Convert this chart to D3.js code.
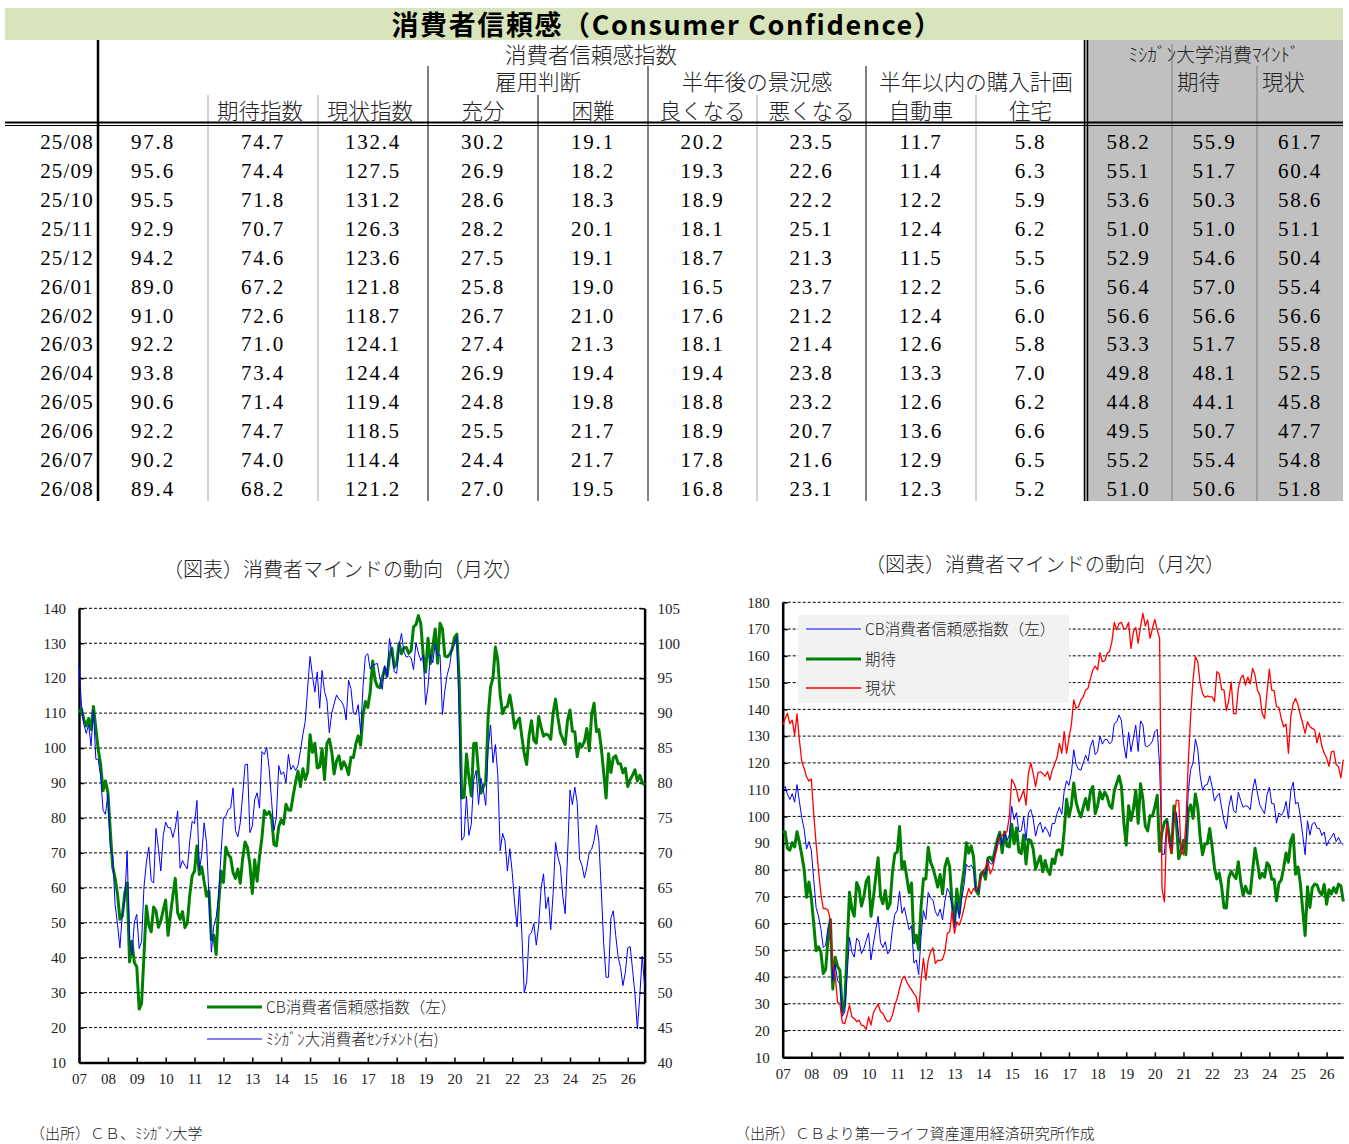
<!DOCTYPE html>
<html>
<head>
<meta charset="utf-8">
<script src="https://cdn.jsdelivr.net/npm/d3@7"></script>
<style>
  body { margin: 0; background: #fff; }
  svg { display: block; }
</style>
</head>
<body>
<script>
// ---- Table data (25/08 - 26/08) ----
const tableMonths = ["25/08","25/09","25/10","25/11","25/12","26/01","26/02","26/03","26/04","26/05","26/06","26/07","26/08"];
const tblCB       = [97.8, 95.6, 95.5, 92.9, 94.2, 89.0, 91.0, 92.2, 93.8, 90.6, 92.2, 90.2, 89.4];
const tblExp      = [74.7, 74.4, 71.8, 70.7, 74.6, 67.2, 72.6, 71.0, 73.4, 71.4, 74.7, 74.0, 68.2];
const tblPres     = [132.4, 127.5, 131.2, 126.3, 123.6, 121.8, 118.7, 124.1, 124.4, 119.4, 118.5, 114.4, 121.2];
const tblJobsPlenty = [30.2, 26.9, 28.6, 28.2, 27.5, 25.8, 26.7, 27.4, 26.9, 24.8, 25.5, 24.4, 27.0];
const tblJobsHard   = [19.1, 18.2, 18.3, 20.1, 19.1, 19.0, 21.0, 21.3, 19.4, 19.8, 21.7, 21.7, 19.5];
const tblBizBetter  = [20.2, 19.3, 18.9, 18.1, 18.7, 16.5, 17.6, 18.1, 19.4, 18.8, 18.9, 17.8, 16.8];
const tblBizWorse   = [23.5, 22.6, 22.2, 25.1, 21.3, 23.7, 21.2, 21.4, 23.8, 23.2, 20.7, 21.6, 23.1];
const tblAuto       = [11.7, 11.4, 12.2, 12.4, 11.5, 12.2, 12.4, 12.6, 13.3, 12.6, 13.6, 12.9, 12.3];
const tblHome       = [5.8, 6.3, 5.9, 6.2, 5.5, 5.6, 6.0, 5.8, 7.0, 6.2, 6.6, 6.5, 5.2];
const tblMich       = [58.2, 55.1, 53.6, 51.0, 52.9, 56.4, 56.6, 53.3, 49.8, 44.8, 49.5, 55.2, 51.0];
const tblMichExp    = [55.9, 51.7, 50.3, 51.0, 54.6, 57.0, 56.6, 51.7, 48.1, 44.1, 50.7, 55.4, 50.6];
const tblMichCur    = [61.7, 60.4, 58.6, 51.1, 50.4, 55.4, 56.6, 55.8, 52.5, 45.8, 47.7, 54.8, 51.8];

// ---- Monthly series, 2007/01 - 2026/08 ----
const yearLabels = ["07","08","09","10","11","12","13","14","15","16","17","18","19","20","21","22","23","24","25","26"];

const cbIndex = [
  110.2,111.2,108.2,106.3,108.5,105.3,111.9,105.6,99.5,95.2,87.8,90.6,
  87.3,76.4,65.9,62.8,58.1,51.0,51.9,58.5,61.4,38.8,44.7,38.6,
  37.4,25.3,26.9,40.8,54.8,49.3,47.4,54.5,53.4,48.7,50.6,53.6,
  56.5,46.4,52.3,57.7,62.7,52.9,51.0,53.2,48.6,49.9,57.8,63.4,
  64.8,72.0,63.8,66.0,61.7,57.6,59.2,45.2,46.4,40.9,55.2,64.8,
  61.5,71.6,69.5,68.7,64.4,62.7,65.4,61.3,68.4,73.1,71.5,66.7,
  58.4,68.0,61.9,69.0,74.3,82.1,81.0,81.8,80.2,72.4,72.0,77.5,
  79.4,78.3,83.9,82.3,82.2,86.4,90.3,93.4,89.0,94.1,91.0,93.1,
  103.8,98.8,101.4,94.3,94.6,99.8,91.0,101.3,102.6,99.1,92.6,96.3,
  97.8,94.0,96.1,94.7,92.4,97.4,97.3,101.1,103.5,100.8,109.4,113.3,
  111.6,116.1,124.9,119.4,117.6,117.3,120.0,122.9,120.6,126.2,128.6,123.1,
  124.3,130.0,127.0,128.7,128.8,127.1,127.9,134.7,135.3,137.9,135.7,126.6,
  121.7,131.4,124.2,129.2,134.1,124.3,135.7,134.2,126.3,126.1,126.8,128.2,
  131.6,132.6,118.8,85.7,85.9,98.3,91.7,86.3,101.3,101.4,92.9,87.1,
  88.9,90.4,109.0,117.5,120.0,128.9,125.1,115.2,109.8,111.6,111.9,115.2,
  111.1,105.7,107.6,108.6,103.2,98.4,95.3,103.6,107.8,102.2,101.4,109.0,
  106.0,103.4,104.0,103.7,102.5,110.1,114.0,108.7,104.3,102.6,101.0,108.0,
  110.9,104.8,104.7,97.5,101.3,100.4,101.9,105.6,99.2,109.6,112.8,104.7,
  105.3,100.1,92.9,85.7,98.4,93.0,97.2,97.8,95.6,95.5,92.9,94.2,
  89.0,91.0,92.2,93.8,90.6,92.2,90.2,89.4
];

const presentSituation = [
  134.2,136.5,138.5,134.7,136.0,130.4,138.3,128.5,120.5,117.9,114.8,113.2,
  114.0,101.0,90.0,80.0,71.2,65.6,65.6,65.0,61.2,43.8,40.7,30.7,
  29.9,22.9,22.6,25.8,29.5,25.1,24.5,23.3,23.9,22.0,21.7,20.4,
  25.1,22.0,26.6,28.3,29.9,27.0,26.4,24.5,23.3,23.6,25.8,29.5,
  32.0,35.7,39.1,40.3,38.2,36.6,35.3,33.8,32.6,27.0,38.9,47.0,
  38.9,46.3,49.4,50.9,45.1,46.3,46.1,46.6,49.4,56.3,56.9,64.8,
  56.3,60.6,59.4,61.9,65.6,69.9,73.1,71.0,73.1,72.5,73.7,76.2,
  79.3,81.0,83.1,78.5,80.5,84.9,88.7,92.4,92.9,93.9,94.2,99.9,
  113.9,112.3,109.9,105.5,107.3,109.9,104.2,116.1,120.0,116.1,111.1,116.3,
  116.7,116.0,115.0,116.7,113.6,117.3,119.6,122.0,127.3,123.6,131.7,123.6,
  129.2,134.2,143.5,140.4,141.0,143.5,144.7,147.2,147.9,151.6,154.7,156.2,
  154.7,161.2,157.8,158.1,160.9,161.6,165.3,172.5,169.7,172.1,172.5,169.9,
  170.3,172.5,162.8,169.0,170.6,164.7,170.9,175.9,171.1,173.4,166.5,170.3,
  173.6,169.7,166.5,73.1,68.1,97.4,89.9,86.2,97.4,106.1,105.9,87.4,
  85.6,97.4,119.8,137.3,151.0,159.7,157.8,149.7,146.0,144.5,145.0,144.7,
  144.7,142.9,154.1,153.2,147.5,147.2,139.5,143.5,150.3,138.5,138.3,147.9,
  151.6,152.8,149.1,152.0,149.5,155.3,152.8,147.2,145.4,138.5,136.6,146.0,
  155.0,147.2,147.0,141.0,140.7,136.6,133.5,134.5,123.6,137.3,142.2,144.1,
  141.6,137.9,134.8,131.0,135.4,133.5,132.9,132.4,127.5,131.2,126.3,123.6,
  121.8,118.7,124.1,124.4,119.4,118.5,114.4,121.2
];

const expectations = [
  94.2,94.3,88.0,87.4,90.2,88.6,94.3,90.3,85.5,80.1,69.8,75.5,
  69.5,60.0,49.8,51.3,49.4,41.3,42.8,54.2,61.5,35.5,47.4,43.9,
  42.4,26.9,29.8,50.8,71.7,65.4,62.7,75.3,73.1,66.5,69.9,75.7,
  77.4,62.7,69.4,77.3,84.6,70.2,67.4,72.3,65.5,67.4,79.1,86.0,
  86.7,96.2,80.3,83.1,77.4,71.6,75.1,52.8,55.6,50.2,66.1,76.7,
  76.6,88.5,82.9,80.6,77.3,73.6,78.3,71.1,81.1,84.3,81.2,68.0,
  59.8,72.9,63.6,73.7,80.1,90.2,86.3,89.0,84.9,72.3,70.9,78.4,
  79.5,76.5,84.4,84.8,83.3,87.4,91.4,94.1,86.4,94.2,88.9,88.6,
  97.1,89.8,95.7,86.8,86.1,93.1,82.2,91.4,91.0,87.8,80.3,83.0,
  85.2,79.3,83.5,80.0,78.3,84.1,82.4,87.2,87.6,85.6,94.5,106.4,
  99.9,104.0,112.5,105.4,102.0,99.8,103.5,106.7,102.4,109.3,111.2,101.0,
  104.0,109.2,106.5,109.1,107.4,104.1,103.0,109.5,112.4,115.1,111.2,97.7,
  89.3,104.0,98.5,102.7,109.8,97.4,112.2,106.4,96.4,94.6,100.3,100.1,
  103.6,107.9,87.0,94.1,97.8,98.9,92.9,86.4,103.9,98.3,84.2,86.9,
  91.1,85.7,101.8,104.3,99.3,108.4,103.3,92.2,85.7,89.7,89.8,95.5,
  88.7,80.9,76.6,78.9,73.7,65.9,65.8,77.0,79.5,78.0,76.8,83.1,
  75.6,70.5,73.9,71.5,71.2,80.0,88.1,83.0,76.9,78.7,77.3,82.7,
  81.5,76.5,76.5,68.5,75.0,76.3,80.8,86.3,82.9,91.1,93.2,78.4,
  81.1,74.9,65.0,55.5,73.7,66.0,73.4,74.7,74.4,71.8,70.7,74.6,
  67.2,72.6,71.0,73.4,71.4,74.7,74.0,68.2
];

const michigan = [
  96.9,91.3,88.4,87.1,88.3,85.3,90.4,83.4,83.4,80.9,76.1,75.5,
  78.4,70.8,69.5,62.6,59.8,56.4,61.2,63.0,70.3,57.6,55.3,60.1,
  61.2,56.3,57.3,65.1,68.7,70.8,66.0,65.7,73.5,70.6,67.4,72.5,
  74.4,73.6,73.6,72.2,73.6,76.0,67.8,68.9,68.2,67.7,71.6,74.5,
  74.2,77.5,67.5,69.8,74.3,71.5,63.7,55.8,59.5,60.8,63.7,69.9,
  75.0,75.3,76.2,76.4,79.3,73.2,72.3,74.3,78.3,82.6,82.7,72.9,
  73.8,77.6,78.6,76.4,84.5,84.1,85.1,82.1,77.5,73.2,75.1,82.5,
  81.2,81.6,80.0,84.1,81.9,82.5,81.8,82.5,84.6,86.9,88.8,93.6,
  98.1,95.4,93.0,95.9,90.7,96.1,93.1,91.9,87.2,90.0,91.3,92.6,
  92.0,91.7,91.0,89.0,94.7,93.5,90.0,89.8,91.2,87.2,93.8,98.2,
  98.5,96.3,96.9,97.0,97.1,95.0,93.4,96.8,95.1,100.7,98.5,95.9,
  95.7,99.7,101.4,98.8,98.0,98.2,97.9,96.2,100.1,98.6,97.5,98.3,
  91.2,93.8,98.4,97.2,100.0,98.2,98.4,89.8,93.2,95.5,96.8,99.3,
  99.8,101.0,89.1,71.8,72.3,78.1,72.5,74.1,80.4,81.8,76.9,80.7,
  79.0,76.8,84.9,88.3,82.9,85.5,81.2,70.3,72.8,71.7,67.4,70.6,
  67.2,62.8,59.4,65.2,58.4,50.0,51.5,58.2,58.6,59.9,56.8,59.7,
  64.9,67.0,62.0,63.7,59.0,64.2,71.5,69.4,68.1,63.8,61.3,69.7,
  79.0,76.9,79.4,77.2,69.1,68.2,66.4,67.9,70.1,70.5,71.8,74.0,
  71.7,64.7,57.0,52.2,52.2,60.7,61.7,58.2,55.1,53.6,51.0,52.9,
  56.4,56.6,53.3,49.8,44.8,49.5,55.2,51.0
];

const SERIF = "'Liberation Serif', 'DejaVu Serif', 'Noto Sans CJK JP', serif";
const JP = "'Noto Sans CJK JP', sans-serif";

const svg = d3.select("body").append("svg")
  .attr("width", 1349)
  .attr("height", 1144);

// ================= Table =================
drawTable();

function drawTable()
{
  // Title bar
  svg.append("rect")
    .attr("x", 5).attr("y", 8)
    .attr("width", 1338).attr("height", 32)
    .attr("fill", "#d8e4bc");

  svg.append("text")
    .attr("x", 667).attr("y", 35)
    .attr("text-anchor", "middle")
    .attr("font-family", JP)
    .attr("font-weight", 700)
    .attr("font-size", "27px")
    .attr("letter-spacing", "1.6px")
    .text("消費者信頼感（Consumer Confidence）");

  // Grey block for Michigan columns
  svg.append("rect")
    .attr("x", 1085).attr("y", 40)
    .attr("width", 258).attr("height", 461)
    .attr("fill", "#c0c0c0");

  // column edges and centers
  const edges = [98, 208, 318, 428, 538, 648, 757, 866, 976, 1085, 1172, 1257, 1343];
  const centers = d3.range(edges.length - 1).map(i => (edges[i] + edges[i + 1]) / 2);

  // vertical rules: [x, top, colour, width]
  const rules = [
    [98, 40, "#000", 2.5],
    [208, 95, "#a6a6a6", 1], [318, 95, "#a6a6a6", 1],
    [428, 66, "#000", 1], [538, 95, "#000", 1],
    [648, 66, "#000", 1], [757, 95, "#a6a6a6", 1],
    [866, 66, "#000", 1], [976, 95, "#a6a6a6", 1],
    [1084.5, 40, "#000", 1.5], [1087.5, 40, "#000", 1.5],
    [1172, 44, "#7f7f7f", 1], [1257, 66, "#7f7f7f", 1]
  ];
  svg.selectAll(".vrule")
    .data(rules)
    .enter()
    .append("line")
    .attr("class", "vrule")
    .attr("x1", d => d[0]).attr("x2", d => d[0])
    .attr("y1", d => d[1]).attr("y2", 501)
    .attr("stroke", d => d[2])
    .attr("stroke-width", d => d[3]);

  // double horizontal rule under the header
  svg.append("line")
    .attr("x1", 5).attr("x2", 1343).attr("y1", 122.5).attr("y2", 122.5)
    .attr("stroke", "#000").attr("stroke-width", 2);
  svg.append("line")
    .attr("x1", 5).attr("x2", 1343).attr("y1", 125.5).attr("y2", 125.5)
    .attr("stroke", "#000").attr("stroke-width", 1);

  // header labels: [text, x, y, anchor]
  const headers = [
    ["消費者信頼感指数", 591, 63, "middle"],
    ["ﾐｼｶﾞﾝ大学消費ﾏｲﾝﾄﾞ", 1214, 62, "middle"],
    ["雇用判断", 538, 90, "middle"],
    ["半年後の景況感", 757, 90, "middle"],
    ["半年以内の購入計画", 976, 90, "middle"],
    ["期待", 1177, 90, "start"],
    ["現状", 1262, 90, "start"],
    ["期待指数", centers[1] - 3, 119, "middle"],
    ["現状指数", centers[2] - 3, 119, "middle"],
    ["充分", centers[3], 119, "middle"],
    ["困難", centers[4], 119, "middle"],
    ["良くなる", centers[5], 119, "middle"],
    ["悪くなる", centers[6], 119, "middle"],
    ["自動車", centers[7], 119, "middle"],
    ["住宅", centers[8], 119, "middle"]
  ];
  svg.selectAll(".hdr")
    .data(headers)
    .enter()
    .append("text")
    .attr("class", "hdr")
    .attr("x", d => d[1])
    .attr("y", d => d[2])
    .attr("text-anchor", d => d[3])
    .attr("font-family", JP)
    .attr("font-weight", 300)
    .attr("font-size", d => d[0].startsWith("ﾐｼ") ? "19px" : "21.5px")
    .attr("fill", "#222")
    .text(d => d[0]);

  // body rows
  const columns = [tblCB, tblExp, tblPres, tblJobsPlenty, tblJobsHard, tblBizBetter,
                   tblBizWorse, tblAuto, tblHome, tblMich, tblMichExp, tblMichCur];
  const rowY = d3.scaleLinear().domain([0, tableMonths.length - 1]).range([149, 496]);

  svg.selectAll(".rowlabel")
    .data(tableMonths)
    .enter()
    .append("text")
    .attr("class", "rowlabel")
    .attr("x", 94)
    .attr("y", (d, i) => rowY(i))
    .attr("text-anchor", "end")
    .attr("font-family", SERIF)
    .attr("font-size", "21px")
    .attr("letter-spacing", "1.2px")
    .text(d => d);

  columns.forEach((col, c) =>
  {
    svg.selectAll(".cell" + c)
      .data(col)
      .enter()
      .append("text")
      .attr("class", "cell" + c)
      .attr("x", centers[c])
      .attr("y", (d, i) => rowY(i))
      .attr("text-anchor", "middle")
      .attr("font-family", SERIF)
      .attr("font-size", "21px")
      .attr("letter-spacing", "1.8px")
      .text(d => d.toFixed(1));
  });
}

// ================= Charts =================
const nMonths = cbIndex.length;
const yearTicks = yearLabels.map((d, i) => i * 12);

function baseChart(opt)
{
  const g = svg.append("g");
  const x = d3.scaleLinear().domain([0, nMonths - 1]).range([opt.left, opt.right]);
  const y = d3.scaleLinear().domain(opt.domain).range([opt.bottom, opt.top]);

  // chart title
  g.append("text")
    .attr("x", opt.titleX).attr("y", opt.titleY)
    .attr("text-anchor", "middle")
    .attr("font-family", JP)
    .attr("font-weight", 300)
    .attr("font-size", "20px")
    .attr("fill", "#222")
    .text("（図表）消費者マインドの動向（月次）");

  // dashed grid lines
  const gridVals = d3.range(opt.domain[0] + opt.step, opt.domain[1] + 0.1, opt.step);
  g.selectAll(".grid")
    .data(gridVals)
    .enter()
    .append("line")
    .attr("x1", opt.left).attr("x2", opt.right)
    .attr("y1", d => y(d)).attr("y2", d => y(d))
    .attr("stroke", "#000")
    .attr("stroke-width", 1)
    .attr("stroke-dasharray", "3,2");

  // left axis
  const yAxis = g.append("g")
    .attr("transform", `translate(${opt.left},0)`)
    .call(d3.axisLeft(y).tickValues(d3.range(opt.domain[0], opt.domain[1] + 0.1, opt.step))
      .tickSizeInner(-5).tickSizeOuter(0).tickPadding(13));
  styleAxis(yAxis);

  // bottom axis
  const xAxis = g.append("g")
    .attr("transform", `translate(0,${opt.bottom})`)
    .call(d3.axisBottom(x).tickValues(yearTicks)
      .tickFormat((d, i) => yearLabels[i])
      .tickSizeInner(-5).tickSizeOuter(0).tickPadding(11));
  styleAxis(xAxis);

  return {g, x, y};
}

function styleAxis(sel)
{
  sel.select(".domain").attr("stroke", "#000").attr("stroke-width", 2.5);
  sel.selectAll(".tick line").attr("stroke", "#000").attr("stroke-width", 1.5);
  sel.selectAll(".tick text")
    .attr("font-family", SERIF)
    .attr("font-size", "15px")
    .attr("fill", "#222");
}

function drawSeries(g, x, y, values, colour, width)
{
  const line = d3.line()
    .x((d, i) => x(i))
    .y(d => y(d));
  g.append("path")
    .datum(values)
    .attr("d", line)
    .attr("fill", "none")
    .attr("stroke", colour)
    .attr("stroke-width", width)
    .attr("stroke-linejoin", "round");
}

function legendItem(g, x0, y0, colour, width, label)
{
  g.append("line")
    .attr("x1", x0).attr("x2", x0 + 55)
    .attr("y1", y0).attr("y2", y0)
    .attr("stroke", colour).attr("stroke-width", width);
  g.append("text")
    .attr("x", x0 + 59).attr("y", y0 + 5.5)
    .attr("font-family", JP)
    .attr("font-weight", 300)
    .attr("font-size", "15.5px")
    .attr("fill", "#222")
    .text(label);
}

// ---- Left chart: CB index vs Michigan sentiment ----
{
  const c = baseChart({left: 79, right: 644.6, top: 608.3, bottom: 1062.5,
                       domain: [10, 140], step: 10, titleX: 343, titleY: 577});
  const yR = d3.scaleLinear().domain([40, 105]).range([1062.5, 608.3]);

  const rAxis = c.g.append("g")
    .attr("transform", "translate(644.6,0)")
    .call(d3.axisRight(yR).tickValues(d3.range(40, 106, 5))
      .tickSizeInner(-5).tickSizeOuter(0).tickPadding(13));
  styleAxis(rAxis);

  drawSeries(c.g, c.x, c.y, cbIndex, "#008000", 3);
  drawSeries(c.g, c.x, yR, michigan, "#0000ff", 1);

  legendItem(c.g, 207, 1007, "#008000", 3, "CB消費者信頼感指数（左）");
  legendItem(c.g, 207, 1039, "#0000ff", 1, "ﾐｼｶﾞﾝ大消費者ｾﾝﾁﾒﾝﾄ(右)");
}

// ---- Right chart: CB index, expectations, present situation ----
{
  const c = baseChart({left: 782.7, right: 1343.3, top: 602.3, bottom: 1057.3,
                       domain: [10, 180], step: 10, titleX: 1045, titleY: 572});

  c.g.append("rect")
    .attr("x", 798).attr("y", 615)
    .attr("width", 271).attr("height", 88)
    .attr("fill", "#f2f2f2");

  drawSeries(c.g, c.x, c.y, expectations, "#008000", 3);
  drawSeries(c.g, c.x, c.y, cbIndex, "#0000ff", 1);
  drawSeries(c.g, c.x, c.y, presentSituation, "#ff0000", 1.3);

  legendItem(c.g, 806, 629, "#0000ff", 1, "CB消費者信頼感指数（左）");
  legendItem(c.g, 806, 659, "#008000", 3, "期待");
  legendItem(c.g, 806, 688, "#ff0000", 1.3, "現状");
}

// ---- Sources ----
svg.append("text")
  .attr("x", 30).attr("y", 1139)
  .attr("font-family", JP).attr("font-weight", 300)
  .attr("font-size", "15px").attr("fill", "#222")
  .text("（出所）ＣＢ、ﾐｼｶﾞﾝ大学");

svg.append("text")
  .attr("x", 735).attr("y", 1139)
  .attr("font-family", JP).attr("font-weight", 300)
  .attr("font-size", "15px").attr("fill", "#222")
  .text("（出所）ＣＢより第一ライフ資産運用経済研究所作成");
</script>
</body>
</html>
